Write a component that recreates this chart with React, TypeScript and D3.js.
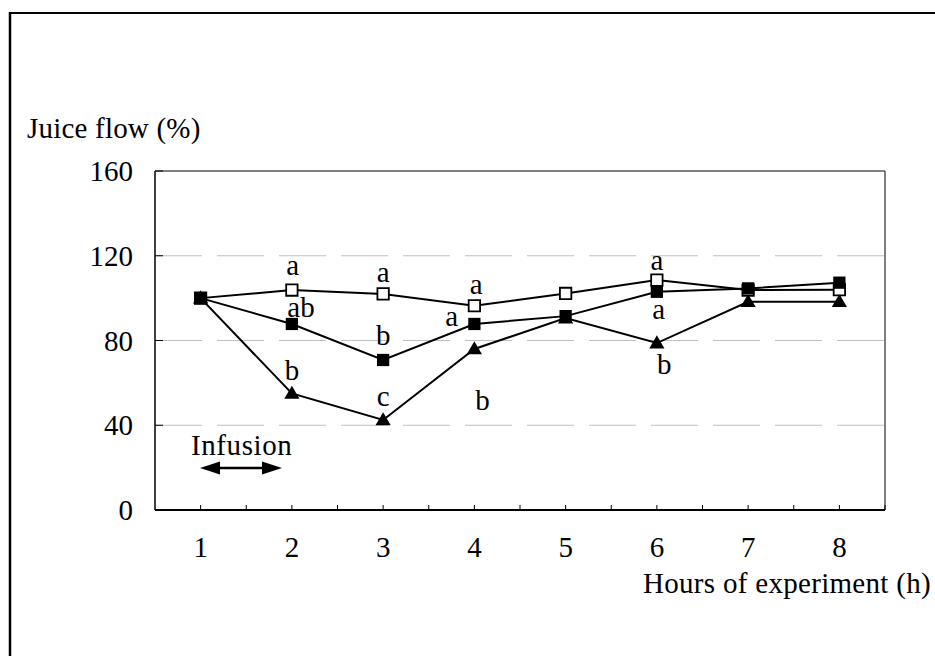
import React from "react";
import * as d3 from "d3";

// hours on the x axis
const hours = [1, 2, 3, 4, 5, 6, 7, 8];
const yTicks = [0, 40, 80, 120, 160];

// juice flow (%) per series
const controlValues = [100, 103.8, 102, 96.4, 102.2, 108.5, 103.8, 104];
const squareValues = [100, 87.8, 70.8, 87.8, 91.5, 103, 104.6, 107.3];
const triangleValues = [100, 55, 42.5, 76, 90.6, 78.8, 98.3, 98.3];

// significance letters, anchored in data units (hour, value at baseline)
const letterText = ["a", "ab", "b", "a", "b", "c", "a", "a", "b", "a", "a", "b"];
const letterHour = [2.01, 2.1, 2.0, 3.0, 3.0, 3.0, 4.02, 3.75, 4.09, 6.0, 6.02, 6.08];
const letterValue = [110.9, 91.1, 61.3, 107.6, 77.9, 49.1, 101.9, 86.8, 47.2, 113.3, 90.1, 64.2];

const FONT = "'Liberation Serif', 'Times New Roman', serif";
const FS = 29;

function App() {
  const width = 935;
  const height = 656;
  const left = 155;
  const right = 885;
  const top = 171;
  const bottom = 510;

  const x = d3.scaleLinear().domain([0.5, 8.5]).range([left, right]);
  const y = d3.scaleLinear().domain([0, 160]).range([bottom, top]);

  const line = d3
    .line<number>()
    .x((_, i) => x(hours[i]))
    .y((d) => y(d));

  const squareSym = d3.symbol(d3.symbolSquare, 150)();
  const openSym = d3.symbol(d3.symbolSquare, 130)();
  const triSym = d3.symbol(d3.symbolTriangle, 100)();

  // x ticks at every half hour inside the plot
  const xTicks = d3.range(1, 17).map((k) => 0.5 + k * 0.5);

  return (
    <svg
      width={width}
      height={height}
      style={{ position: "absolute", left: 0, top: 0, background: "#fff" }}
    >
      {/* outer frame */}
      <line x1={10} y1={13} x2={width} y2={13} stroke="#000" strokeWidth={2} />
      <line x1={10} y1={12} x2={10} y2={height} stroke="#000" strokeWidth={2.5} />

      {/* gridlines */}
      {yTicks.slice(1, 4).map((t) => (
        <line
          key={"g" + t}
          x1={left}
          x2={right}
          y1={y(t)}
          y2={y(t)}
          stroke="#c0c0c0"
          strokeWidth={1}
          strokeDasharray="47,15"
        />
      ))}

      {/* plot border */}
      <line x1={left} x2={right} y1={top} y2={top} stroke="#555" strokeWidth={1.5} />
      <line x1={right} x2={right} y1={top} y2={bottom} stroke="#555" strokeWidth={1.5} />
      <line x1={left} x2={left} y1={top} y2={bottom} stroke="#000" strokeWidth={1.5} />
      <line x1={left} x2={right} y1={bottom} y2={bottom} stroke="#000" strokeWidth={2} />

      {/* y ticks and labels */}
      {yTicks.map((t) => (
        <g key={"y" + t}>
          <line x1={left} x2={left + 8} y1={y(t)} y2={y(t)} stroke="#000" strokeWidth={1} />
          <text x={133} y={y(t) + 10} textAnchor="end" fontFamily={FONT} fontSize={FS}>
            {t}
          </text>
        </g>
      ))}

      {/* x ticks and labels */}
      {xTicks.map((t) => (
        <line key={"xt" + t} x1={x(t)} x2={x(t)} y1={bottom} y2={bottom - 5} stroke="#000" strokeWidth={1} />
      ))}
      {hours.map((h) => (
        <text key={"xl" + h} x={x(h)} y={557} textAnchor="middle" fontFamily={FONT} fontSize={FS}>
          {h}
        </text>
      ))}

      {/* axis titles */}
      <text x={27} y={138} fontFamily={FONT} fontSize={FS} letterSpacing={0.2}>
        Juice flow (%)
      </text>
      <text x={643} y={593} fontFamily={FONT} fontSize={FS} letterSpacing={0.3}>
        Hours of experiment (h)
      </text>

      {/* infusion marker */}
      <text x={191} y={455} fontFamily={FONT} fontSize={FS} letterSpacing={0.6}>
        Infusion
      </text>
      <line x1={215} x2={267} y1={468} y2={468} stroke="#000" strokeWidth={2.5} />
      <path d="M200,468 L220,461.5 L220,474.5 Z" fill="#000" />
      <path d="M282,468 L262,461.5 L262,474.5 Z" fill="#000" />

      {/* series lines */}
      {[triangleValues, controlValues, squareValues].map((vals, i) => (
        <path key={"l" + i} d={line(vals) || ""} fill="none" stroke="#000" strokeWidth={2} />
      ))}

      {/* markers */}
      {triangleValues.map((v, i) => (
        <path key={"t" + i} d={triSym || ""} transform={`translate(${x(hours[i])},${y(v) + 1})`} fill="#000" />
      ))}
      {controlValues.map((v, i) => (
        <path
          key={"o" + i}
          d={openSym || ""}
          transform={`translate(${x(hours[i])},${y(v)})`}
          fill="#fff"
          stroke="#000"
          strokeWidth={1.8}
        />
      ))}
      {squareValues.map((v, i) => (
        <path key={"s" + i} d={squareSym || ""} transform={`translate(${x(hours[i])},${y(v)})`} fill="#000" />
      ))}

      {/* significance letters */}
      {letterText.map((s, i) => (
        <text
          key={"lt" + i}
          x={x(letterHour[i])}
          y={y(letterValue[i])}
          textAnchor="middle"
          fontFamily={FONT}
          fontSize={FS}
        >
          {s}
        </text>
      ))}
    </svg>
  );
}

export default App;
